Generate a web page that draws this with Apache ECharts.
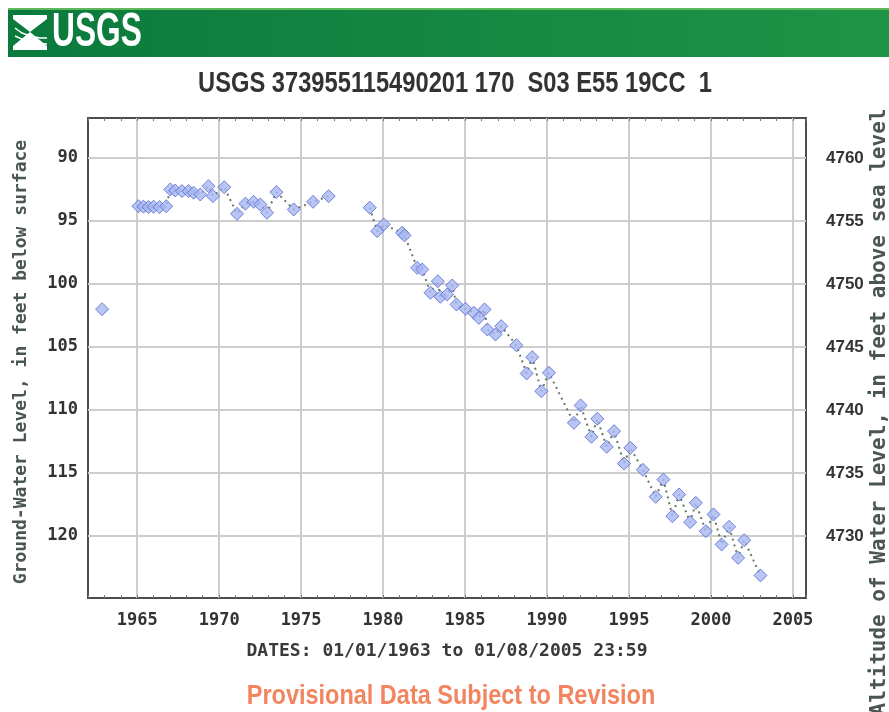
<!DOCTYPE html>
<html>
<head>
<meta charset="utf-8">
<script src="https://cdn.jsdelivr.net/npm/echarts@6/dist/echarts.min.js"></script>
<style>
  html, body { margin: 0; padding: 0; background: #fff; }
  #chart { width: 889px; height: 712px; }
</style>
</head>
<body>
<div id="chart"></div>
<script>
// measurement dates (decimal years) and depth to water, feet below surface
const years = [
  1962.86,
  1965.08, 1965.38, 1965.69, 1966.00, 1966.36, 1966.77,
  1967.02, 1967.32, 1967.73, 1968.13, 1968.44, 1968.85, 1969.35, 1969.62,
  1970.31, 1971.09, 1971.60, 1972.10, 1972.51, 1972.92, 1973.49, 1974.55,
  1975.73, 1976.68,
  1979.19, 1979.64, 1980.04, 1981.16, 1981.31, 1982.08, 1982.39, 1982.89,
  1983.34, 1983.50, 1983.91, 1984.22, 1984.48, 1985.03, 1985.54, 1985.84,
  1986.19, 1986.36, 1986.86, 1987.21, 1988.13, 1988.76, 1989.10, 1989.65,
  1990.12, 1991.64, 1992.05, 1992.71, 1993.07, 1993.64, 1994.09, 1994.70,
  1995.08, 1995.85, 1996.63, 1997.10, 1997.65, 1998.06, 1998.73, 1999.08,
  1999.69, 2000.16, 2000.65, 2001.11, 2001.66, 2002.03, 2003.02
];
const depths = [
  102.0,
  93.83, 93.87, 93.90, 93.87, 93.90, 93.83,
  92.50, 92.58, 92.63, 92.63, 92.76, 92.90, 92.24, 93.03,
  92.32, 94.43, 93.63, 93.48, 93.69, 94.35, 92.71, 94.09,
  93.48, 93.03,
  93.95, 95.81, 95.28, 95.94, 96.15, 98.72, 98.85, 100.70,
  99.78, 101.02, 100.83, 100.12, 101.63, 101.97, 102.29, 102.69,
  102.02, 103.61, 104.01, 103.35, 104.86, 107.10, 105.81, 108.51,
  107.05, 111.02, 109.64, 112.13, 110.70, 112.92, 111.68, 114.25,
  113.00, 114.75, 116.89, 115.52, 118.43, 116.71, 118.90, 117.37,
  119.62, 118.29, 120.67, 119.27, 121.73, 120.33, 123.13
];
const yearTicks = [1965, 1970, 1975, 1980, 1985, 1990, 1995, 2000, 2005];
const depthTicks = [90, 95, 100, 105, 110, 115, 120];
const altitudeTicks = [4730, 4735, 4740, 4745, 4750, 4755, 4760];
const landSurface = 4850; // altitude = landSurface - depth

const points = years.map((y, i) => [y, depths[i]]);
// dotted line is broken across long gaps between measurements
const linePts = [];
points.forEach((p, i) => {
  if (i > 0 && p[0] - points[i - 1][0] > 2) linePts.push([p[0], '-']);
  linePts.push(p);
});

const chart = echarts.init(document.getElementById('chart'));
const mono = "'DejaVu Sans Mono', monospace";
const sans = "'Liberation Sans', Arial, sans-serif";
const depthMin = 86.83, depthMax = 124.92;
const plain = (v) => String(v);

chart.setOption({
  backgroundColor: '#fff',
  animation: false,
  grid: {
    left: 88, right: 83, top: 118, bottom: 114,
    show: true, borderColor: '#4d4d4d', borderWidth: 2, backgroundColor: '#fff'
  },
  xAxis: [
    {
      type: 'value', min: 1962.0, max: 2005.8,
      axisLine: { show: false },
      axisTick: { show: false, customValues: yearTicks },
      axisLabel: {
        customValues: yearTicks, margin: 14, formatter: plain,
        color: '#333', fontFamily: mono, fontWeight: 'bold', fontSize: 17
      },
      splitLine: { show: true, lineStyle: { color: '#cdcdcd', width: 2 } }
    },
    {
      type: 'value', min: 1962, max: 2005.8, interval: 1, position: 'bottom',
      axisLine: { show: false },
      axisTick: { show: true, inside: true, length: 3, lineStyle: { color: '#777', width: 1 } },
      axisLabel: { show: false }, splitLine: { show: false }
    },
    {
      type: 'value', min: 1962, max: 2005.8, interval: 1, position: 'top',
      axisLine: { show: false },
      axisTick: { show: true, inside: true, length: 3, lineStyle: { color: '#777', width: 1 } },
      axisLabel: { show: false }, splitLine: { show: false }
    }
  ],
  yAxis: [
    {
      type: 'value', inverse: true, min: depthMin, max: depthMax,
      axisLine: { show: false },
      axisTick: { show: false, customValues: depthTicks },
      axisLabel: {
        customValues: depthTicks, margin: 10, formatter: plain,
        color: '#333', fontFamily: mono, fontWeight: 'bold', fontSize: 17
      },
      splitLine: { show: true, lineStyle: { color: '#cdcdcd', width: 2 } }
    },
    {
      type: 'value', position: 'right',
      min: landSurface - depthMax, max: landSurface - depthMin,
      axisLine: { show: false },
      axisTick: { show: false, customValues: altitudeTicks },
      axisLabel: {
        customValues: altitudeTicks, margin: 20, formatter: plain,
        color: '#333', fontFamily: sans, fontWeight: 'bold', fontSize: 17
      },
      splitLine: { show: false }
    }
  ],
  series: [
    {
      type: 'line', data: linePts, showSymbol: false, connectNulls: false,
      lineStyle: { color: '#667866', width: 2, type: [2, 4] }, z: 2
    },
    {
      type: 'scatter', data: points, symbol: 'diamond', symbolSize: 13,
      itemStyle: { color: '#a6b6f2', borderColor: '#5568cc', borderWidth: 1 }, z: 3
    }
  ],
  graphic: [
    {
      type: 'rect', shape: { x: 8, y: 8, width: 881, height: 49 },
      style: {
        fill: new echarts.graphic.LinearGradient(0, 0, 1, 0, [
          { offset: 0, color: '#0b7a3d' }, { offset: 1, color: '#1e9447' }
        ])
      }
    },
    { type: 'rect', shape: { x: 8, y: 8, width: 881, height: 2 }, style: { fill: '#5fb85a' } },
    { type: 'rect', shape: { x: 13, y: 15, width: 34, height: 35 }, style: { fill: '#fff' } },
    {
      type: 'polygon', shape: { points: [[13, 19], [30, 32], [13, 46]] },
      style: { fill: '#0b7a3d' }
    },
    {
      type: 'polygon', shape: { points: [[47, 19], [30, 32], [47, 46]] },
      style: { fill: '#0b7a3d' }
    },
    {
      type: 'polyline', shape: { points: [[15, 28], [22, 33], [30, 36], [40, 38], [47, 38]] },
      style: { stroke: '#fff', lineWidth: 1.5, fill: null }
    },
    {
      type: 'polyline', shape: { points: [[15, 36], [24, 40], [34, 43], [47, 44]] },
      style: { stroke: '#fff', lineWidth: 1.5, fill: null }
    },
    {
      type: 'text', x: 52, y: 33, scaleX: 0.66,
      style: {
        text: 'USGS', fill: '#fff', fontFamily: sans, fontWeight: 'bold',
        fontSize: 48, textVerticalAlign: 'middle'
      }
    },
    {
      type: 'text', x: 455, y: 84, scaleX: 0.79,
      style: {
        text: 'USGS 373955115490201 170  S03 E55 19CC  1', fill: '#333',
        fontFamily: sans, fontWeight: 'bold', fontSize: 30,
        textAlign: 'center', textVerticalAlign: 'middle'
      }
    },
    {
      type: 'text', x: 21, y: 362, rotation: Math.PI / 2,
      style: {
        text: 'Ground-Water Level, in feet below surface', fill: '#4a5650',
        fontFamily: mono, fontWeight: 'bold', fontSize: 18,
        textAlign: 'center', textVerticalAlign: 'middle'
      }
    },
    {
      type: 'text', x: 880, y: 412, rotation: Math.PI / 2,
      style: {
        text: 'Altitude of Water Level, in feet above sea level', fill: '#4a5650',
        fontFamily: mono, fontWeight: 'bold', fontSize: 21,
        textAlign: 'center', textVerticalAlign: 'middle'
      }
    },
    {
      type: 'text', x: 447, y: 651,
      style: {
        text: 'DATES: 01/01/1963 to 01/08/2005 23:59', fill: '#3a3a3a',
        fontFamily: mono, fontWeight: 'bold', fontSize: 18,
        textAlign: 'center', textVerticalAlign: 'middle'
      }
    },
    {
      type: 'text', x: 451, y: 697, scaleX: 0.87,
      style: {
        text: 'Provisional Data Subject to Revision', fill: '#f2845f',
        fontFamily: sans, fontWeight: 'bold', fontSize: 27,
        textAlign: 'center', textVerticalAlign: 'middle'
      }
    }
  ]
});
</script>
</body>
</html>
